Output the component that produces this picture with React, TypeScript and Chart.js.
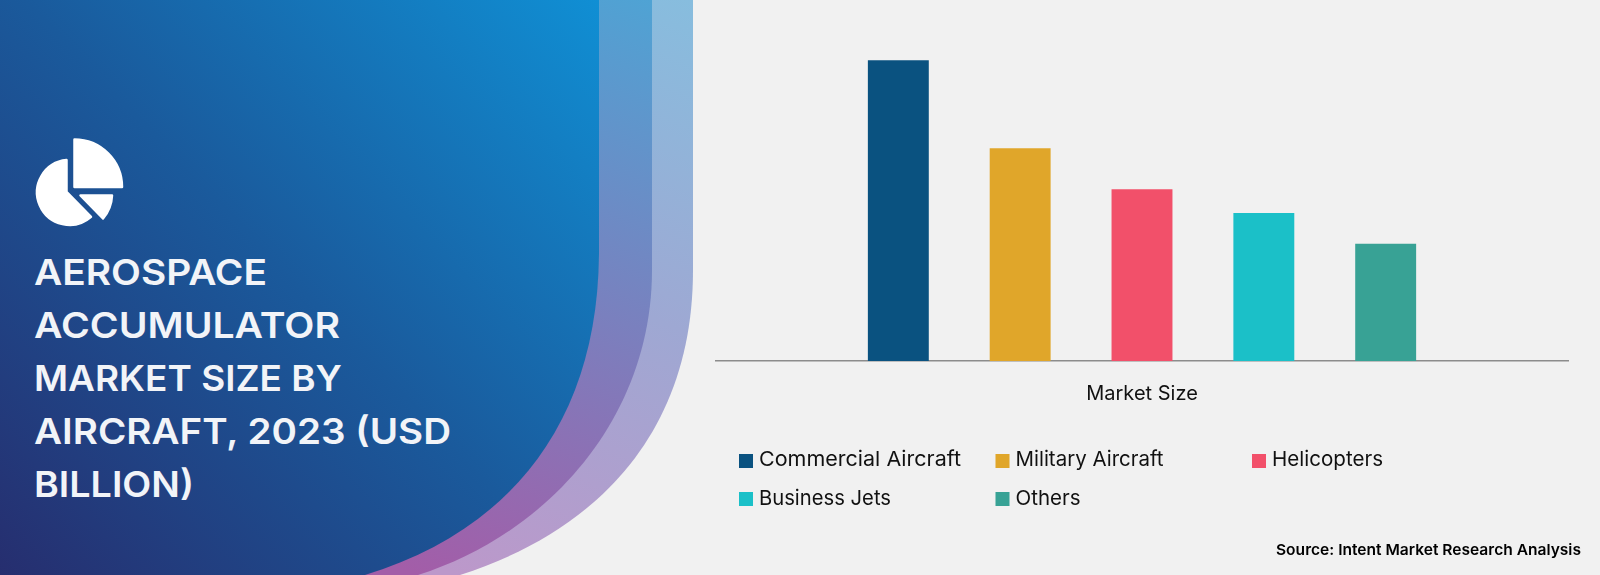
import React, { useEffect, useRef } from "react";
import { Chart, registerables } from "chart.js";

Chart.register(...registerables);

const categories = ["Market Size"];
const seriesNames = ["Commercial Aircraft", "Military Aircraft", "Helicopters", "Business Jets", "Others"];
const seriesValues = [4.41, 3.12, 2.52, 2.17, 1.72];
const seriesColors = ["#0A5280", "#E0A62A", "#F2506A", "#1BC0C8", "#38A295"];
const titleLines = ["AEROSPACE", "ACCUMULATOR", "MARKET SIZE BY", "AIRCRAFT, 2023 (USD", "BILLION)"];
const titleWidths = [233, 306, 308, 417, 160];
const sourceText = "Source: Intent Market Research Analysis";

const FONT = "Inter, 'Noto Sans', sans-serif";
const legendPos = [
  [739, 454], [995.5, 454], [1252, 454],
  [739, 492], [995.5, 492],
];
const legendTextWidths = [202, 148, 111, 132, 65];

export default function App() {
  const ref = useRef<HTMLCanvasElement | null>(null);
  useEffect(() => {
    if (!ref.current) return;
    const chart = new Chart(ref.current, {
      type: "bar",
      data: {
        labels: categories,
        datasets: seriesNames.map((n, i) => ({
          label: n,
          data: [seriesValues[i]],
          backgroundColor: seriesColors[i],
          barPercentage: 0.5,
          categoryPercentage: 0.715,
        })),
      },
      options: {
        responsive: false,
        animation: false,
        layout: { padding: { left: 716, right: 32, top: 20, bottom: 0 } },
        plugins: { legend: { display: false }, title: { display: false }, tooltip: { enabled: false } },
        scales: {
          x: {
            grid: { display: false, drawTicks: false },
            border: { color: "#8C8C8C", width: 1.5 },
            ticks: { color: "#111111", font: { family: FONT, size: 20 }, padding: 21 },
            afterFit: (s: any) => { s.height = 214; },
          },
          y: { display: false, min: 0, max: 5 },
        },
      },
    });
    return () => chart.destroy();
  }, []);

  return (
    <div style={{ position: "absolute", left: 0, top: 0, width: 1600, height: 575, overflow: "hidden", background: "#F1F1F1", fontFamily: FONT }}>
      <svg width={1600} height={575} style={{ position: "absolute", left: 0, top: 0 }}>
        <defs>
          <linearGradient id="main" gradientUnits="userSpaceOnUse" x1={0} y1={575} x2={600} y2={0}>
            <stop offset="0" stopColor="#262E6F" />
            <stop offset="0.5" stopColor="#1A5A9C" />
            <stop offset="1" stopColor="#108FD4" />
          </linearGradient>
          <linearGradient id="mid" gradientUnits="userSpaceOnUse" x1={650} y1={0} x2={420} y2={575}>
            <stop offset="0" stopColor="#4FA3D4" />
            <stop offset="0.5" stopColor="#7A80BE" />
            <stop offset="1" stopColor="#A35DA8" />
          </linearGradient>
          <linearGradient id="outer" gradientUnits="userSpaceOnUse" x1={690} y1={0} x2={460} y2={575}>
            <stop offset="0" stopColor="#87BDDE" />
            <stop offset="0.5" stopColor="#9EA8D3" />
            <stop offset="1" stopColor="#BC98CA" />
          </linearGradient>
        </defs>
        <path d="M0,0 L693,0 L693,270 C693,430 600,530 460,575 L0,575 Z" fill="url(#outer)" />
        <path d="M0,0 L652,0 L652,270 C652,420 545,535 418,575 L0,575 Z" fill="url(#mid)" />
        <path d="M0,0 L599,0 L599,250 C599,420 512,530 365,575 L0,575 Z" fill="url(#main)" />
        <g fill="#FFFFFF" stroke="#FFFFFF" strokeWidth={2.5} strokeLinejoin="round">
          <path d="M74.5,139.5 L74.5,187 L122,187 A47.5,47.5 0 0 0 74.5,139.5 Z" />
          <path d="M66.5,160 L66.5,192 L91,216.8 A32.5,32.5 0 1 1 66.5,160 Z" />
          <path d="M80.5,195.5 L112,195.5 A38,38 0 0 1 103,218.5 Z" />
        </g>
        {titleLines.map((t, i) => (
          <text key={t} x={34} y={285.3 + i * 52.8} fill="#F2F4F8" fontSize={36} fontWeight={600}
            textLength={titleWidths[i]} lengthAdjust="spacingAndGlyphs">{t}</text>
        ))}
      </svg>
      <canvas ref={ref} width={1600} height={575} style={{ position: "absolute", left: 0, top: 0, width: 1600, height: 575 }} />
      <svg width={1600} height={575} style={{ position: "absolute", left: 0, top: 0, pointerEvents: "none" }}>
        {seriesNames.map((n, i) => (
          <g key={n}>
            <rect x={legendPos[i][0]} y={legendPos[i][1]} width={14} height={14} fill={seriesColors[i]} />
            <text x={legendPos[i][0] + 20} y={legendPos[i][1] + (i > 2 ? 13 : 12)} fontSize={20.5} fill="#111111"
              textLength={legendTextWidths[i]} lengthAdjust="spacingAndGlyphs">{n}</text>
          </g>
        ))}
        <text x={1276} y={555} fontSize={15} fontWeight={600} fill="#000000" textLength={305} lengthAdjust="spacingAndGlyphs">{sourceText}</text>
      </svg>
    </div>
  );
}
